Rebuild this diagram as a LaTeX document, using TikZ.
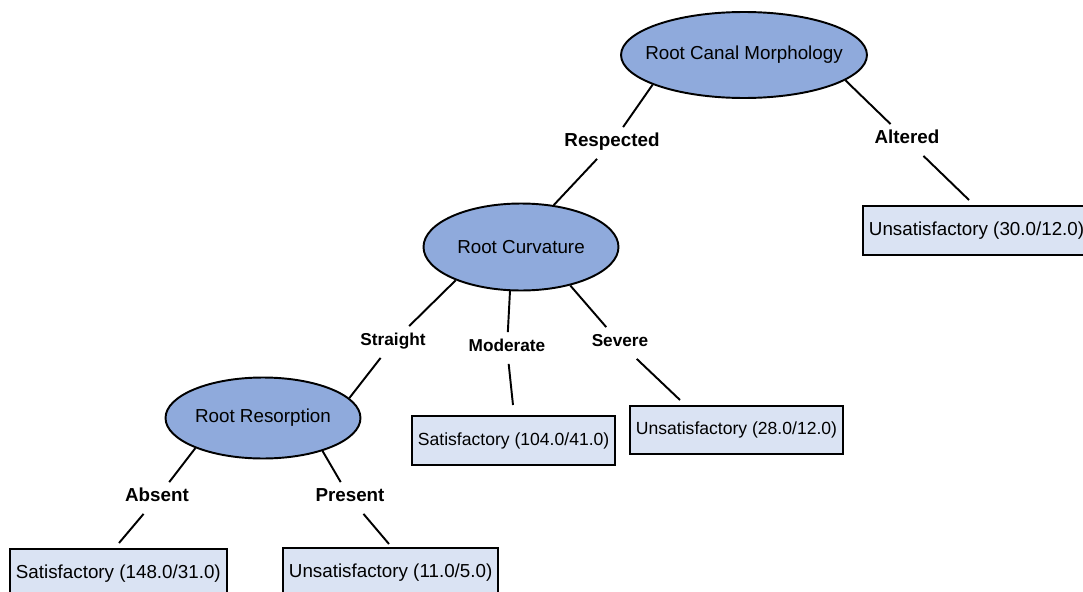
\documentclass[tikz,border=0pt]{standalone}
\usepackage{fontspec}
\setmainfont{Liberation Sans}
\usepackage{tikz}
\usetikzlibrary{shapes.geometric}
\definecolor{splitfill}{RGB}{143,170,220}
\definecolor{leaffill}{RGB}{218,227,243}

\begin{document}
\begin{tikzpicture}[x=0.02cm, y=-0.02cm,
    splitnode/.style={ellipse, draw=black, fill=splitfill, line width=1.1pt,
                      inner xsep=-12pt, inner ysep=0pt,
                      font=\fontsize{10.7}{13}\selectfont},
    leafblk/.style={rectangle, draw=black, fill=leaffill, line width=1.1pt,
                    anchor=north west, inner xsep=3.4pt, minimum height=0.98cm,
                    font=\fontsize{10.7}{13}\selectfont},
    smtxt/.style={font=\fontsize{10}{12}\selectfont},
    lbl/.style={inner sep=3pt, text height=8pt, text depth=3.7pt,
                font=\fontsize{10.7}{13}\selectfont\bfseries},
    smlbl/.style={font=\fontsize{9.8}{12}\selectfont\bfseries},
    edg/.style={line width=1.1pt, color=black}
  ]
    \useasboundingbox (0,0) rectangle (1083,592);
    \clip (0,0) rectangle (1083,592);

    % Split nodes
    \node[splitnode, minimum width=4.92cm, minimum height=1.72cm] (morph)  at (744,55)  {Root Canal Morphology};
    \node[splitnode, minimum width=3.9cm,  minimum height=1.74cm] (curv)   at (521,247) {Root Curvature};
    \node[splitnode, minimum width=3.9cm,  minimum height=1.62cm] (resorp) at (263,418) {Root Resorption};

    % Leaves
    \node[leafblk]        (altleaf) at (862,205) {Unsatisfactory (30.0/12.0)};
    \node[leafblk, smtxt] (modleaf) at (411,415) {Satisfactory (104.0/41.0)};
    \node[leafblk, smtxt, minimum height=0.96cm] (sevleaf) at (629,405) {Unsatisfactory (28.0/12.0)};
    \node[leafblk]        (absleaf) at (9,548)   {Satisfactory (148.0/31.0)};
    \node[leafblk]        (preleaf) at (282,547) {Unsatisfactory (11.0/5.0)};

    % Branch labels
    \node[lbl]        (lresp) at (612,143) {Respected};
    \node[lbl]        (lalt)  at (907,140) {Altered};
    \node[lbl, smlbl] (lstr)  at (393,342) {Straight};
    \node[lbl, smlbl] (lmod)  at (507,348) {Moderate};
    \node[lbl, smlbl] (lsev)  at (620,343) {Severe};
    \node[lbl]        (labs)  at (157,498) {Absent};
    \node[lbl]        (lpre)  at (350,498) {Present};

    % Edges
    \draw[edg] (morph.198) -- (lresp);
    \draw[edg] (lresp) -- (curv.52);
    \draw[edg] (morph.-14) -- (lalt);
    \draw[edg] (lalt) -- ([shift={(107,-5)}]altleaf.north west);
    \draw[edg] (curv.207) -- (lstr);
    \draw[edg] (lstr) -- (resorp.13);
    \draw[edg] (curv.256) -- (lmod);
    \draw[edg] (lmod) -- ([shift={(102,-10)}]modleaf.north west);
    \draw[edg] (curv.-38) -- (lsev);
    \draw[edg] (lsev) -- ([shift={(51,-5)}]sevleaf.north west);
    \draw[edg] (resorp.204) -- (labs);
    \draw[edg] (labs) -- ([shift={(110,-5)}]absleaf.north west);
    \draw[edg] (resorp.-29) -- (lpre);
    \draw[edg] (lpre) -- ([shift={(107,-3)}]preleaf.north west);
\end{tikzpicture}
\end{document}
